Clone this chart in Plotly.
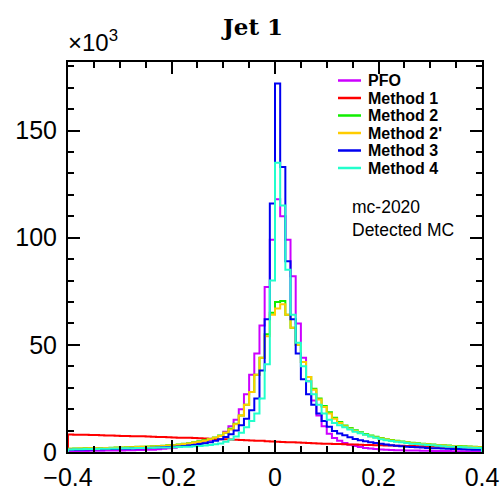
import numpy as np
import plotly.graph_objects as go

# ---------------- data (counts in units of 10^3, 80 bins from -0.4 to 0.4) ----------------
x_min, x_max, n_bins = -0.4, 0.4, 80

pfo = [0.4, 0.45, 0.5, 0.5, 0.55, 0.6, 0.6, 0.65, 0.7, 0.7, 0.75, 0.8, 0.85, 0.9, 0.95, 1.0,
       1.1, 1.3, 1.5, 1.7, 2.0, 2.4, 2.8, 3.2, 3.7, 4.3, 4.8, 5.5, 6.5, 7.5,
       9.5, 12, 15, 20, 27, 36, 46, 59, 77, 99,
       118, 110, 99, 82, 60, 44, 33, 24, 17, 12,
       8.5, 6.5, 5.2, 4.2, 3.4, 2.8, 2.3, 1.9, 1.6, 1.4,
       1.2, 1.05, 0.95, 0.85, 0.8, 0.75, 0.7, 0.65, 0.6, 0.55,
       0.5, 0.48, 0.45, 0.42, 0.4, 0.38, 0.35, 0.33, 0.3, 0.3]

method1 = [8.2, 8.1, 8.1, 8.0, 7.9, 7.9, 7.8, 7.7, 7.7, 7.6,
           7.5, 7.5, 7.4, 7.3, 7.3, 7.2, 7.1, 7.0, 7.0, 6.9,
           6.8, 6.7, 6.7, 6.6, 6.5, 6.4, 6.3, 6.2, 6.1, 6.0,
           5.9, 5.8, 5.7, 5.6, 5.5, 5.4, 5.3, 5.2, 5.0, 4.9,
           4.8, 4.7, 4.6, 4.5, 4.4, 4.3, 4.2, 4.1, 4.0, 3.9,
           3.8, 3.75, 3.7, 3.6, 3.5, 3.45, 3.4, 3.3, 3.25, 3.2,
           3.1, 3.05, 3.0, 2.95, 2.9, 2.85, 2.8, 2.7, 2.65, 2.6,
           2.55, 2.5, 2.45, 2.4, 2.35, 2.3, 2.25, 2.2, 2.15, 2.1]

method2 = [1.55, 1.6, 1.65, 1.7, 1.75, 1.8, 1.85, 1.9, 2.0, 2.05, 2.1, 2.2, 2.3, 2.4, 2.5, 2.6,
           2.7, 2.8, 2.95, 3.1, 3.3, 3.5, 3.8, 4.1, 4.5, 5.0, 5.5, 6.1, 6.8, 7.7,
           9.0, 10.8, 13.2, 17, 22, 28, 36, 44, 55, 65,
           70, 70.5, 64, 58, 50, 42, 35, 29.5, 25, 21.5,
           18.5, 16, 14, 12.4, 11.2, 10.1, 9.2, 8.4, 7.7, 7.1,
           6.5, 6.0, 5.6, 5.2, 4.9, 4.6, 4.3, 4.05, 3.85, 3.65,
           3.45, 3.3, 3.15, 3.0, 2.85, 2.75, 2.65, 2.55, 2.45, 2.35]

method2p = [1.5, 1.55, 1.6, 1.65, 1.7, 1.75, 1.8, 1.85, 1.9, 2.0, 2.05, 2.1, 2.2, 2.3, 2.4, 2.5,
            2.6, 2.7, 2.85, 3.0, 3.2, 3.4, 3.7, 4.0, 4.4, 4.8, 5.3, 5.9, 6.6, 7.5,
            9, 10.5, 13, 17, 22, 28, 36, 44, 54, 64,
            67, 69, 64, 58, 50, 42, 35, 29, 24.5, 21,
            18, 15.5, 13.5, 12, 10.8, 9.8, 8.9, 8.1, 7.4, 6.8,
            6.3, 5.8, 5.4, 5.0, 4.7, 4.4, 4.1, 3.9, 3.7, 3.5,
            3.3, 3.15, 3.0, 2.85, 2.7, 2.6, 2.5, 2.4, 2.3, 2.2]

method3 = [1.0, 1.05, 1.1, 1.15, 1.2, 1.25, 1.3, 1.35, 1.4, 1.45, 1.5, 1.55, 1.6, 1.7, 1.8, 1.9,
           2.0, 2.1, 2.2, 2.3, 2.45, 2.6, 2.8, 3.0, 3.3, 3.7, 4.1, 4.6, 5.2, 6.0,
           7.0, 8.3, 10, 12.5, 15.5, 19.5, 25, 38, 62, 116,
           172, 133, 89, 62, 46, 34, 27, 22, 18, 14.5,
           11.8, 9.8, 8.6, 7.8, 6.9, 6.1, 5.5, 5.0, 4.6, 4.2,
           3.8, 3.5, 3.2, 2.9, 2.7, 2.5, 2.35, 2.2, 2.05, 1.9,
           1.8, 1.7, 1.6, 1.5, 1.45, 1.4, 1.3, 1.2, 1.1, 1.0]

method4 = [1.2, 1.25, 1.3, 1.35, 1.4, 1.45, 1.5, 1.55, 1.6, 1.65, 1.7, 1.75, 1.8, 1.85, 1.9, 1.95,
           2.0, 2.05, 2.1, 2.15, 2.2, 2.3, 2.4, 2.5, 2.65, 2.8, 3.0, 3.3, 3.6, 4.0,
           4.8, 5.8, 7.2, 9, 11.5, 14.5, 18, 25, 41, 80,
           135, 115, 85, 64, 51, 40, 33, 27, 22, 18,
           15, 13.5, 12.5, 11.5, 10.5, 9.5, 8.7, 8.0, 7.2, 6.6,
           6.0, 5.5, 5.1, 4.8, 4.5, 4.2, 3.9, 3.7, 3.5, 3.3,
           3.1, 2.9, 2.7, 2.5, 2.4, 2.3, 2.2, 2.1, 2.0, 1.9]

series_names = ["PFO", "Method 1", "Method 2", "Method 2'", "Method 3", "Method 4"]
series_values = [pfo, method1, method2, method2p, method3, method4]
series_colors = ["#CC00FF", "#FF0000", "#11EE00", "#FFCC00", "#0000F0", "#22FFCC"]

x_tickvals = [-0.4, -0.2, 0, 0.2, 0.4]
x_ticktext = ["\u22120.4", "\u22120.2", "0", "0.2", "0.4"]
y_tickvals = [0, 50, 100, 150]
y_ticktext = ["0", "50", "100", "150"]
y_max = 182

title_text = "Jet 1"
info_lines = ["mc-2020", "Detected MC"]

# ---------------- layout geometry ----------------
W, H = 504, 490
ML, MR, MT, MB = 68, 22, 62, 38
PW, PH = W - ML - MR, H - MT - MB


def px_to_paper(px, py):
    return (px - ML) / PW, (H - MB - py) / PH


edges = np.linspace(x_min, x_max, n_bins + 1)

fig = go.Figure()
for name, vals, col in zip(series_names, series_values, series_colors):
    xs = [edges[0]] + list(edges) + [edges[-1]]
    ys = [0] + list(vals) + [vals[-1], 0]
    fig.add_trace(go.Scatter(x=xs, y=ys, mode="lines", name=name,
                             line=dict(color=col, width=2, shape="hv"),
                             showlegend=False, hoverinfo="skip"))

# manual legend
leg_x0, leg_x1, leg_tx = 338, 361, 366
leg_y0, leg_dy = 80.5, 17.5
for k, (name, col) in enumerate(zip(series_names, series_colors)):
    py = leg_y0 + k * leg_dy
    xa, ya = px_to_paper(leg_x0, py)
    xb, _ = px_to_paper(leg_x1, py)
    fig.add_shape(type="line", xref="paper", yref="paper", x0=xa, x1=xb, y0=ya, y1=ya,
                  line=dict(color=col, width=2.5))
    xt, _ = px_to_paper(leg_tx, py)
    fig.add_annotation(xref="paper", yref="paper", x=xt, y=ya, xanchor="left", yanchor="middle",
                       text="<b>%s</b>" % name, showarrow=False,
                       font=dict(family="Liberation Sans", size=16, color="black"))

for k, line in enumerate(info_lines):
    xt, yt = px_to_paper(350, 207 + k * 23)
    fig.add_annotation(xref="paper", yref="paper", x=xt, y=yt, xanchor="left", yanchor="middle",
                       text=line, showarrow=False,
                       font=dict(family="Liberation Sans", size=17.5, color="black"))

# x10^3 label
xe, ye = px_to_paper(66, 58)
fig.add_annotation(xref="paper", yref="paper", x=xe, y=ye, xanchor="left", yanchor="bottom",
                   text="\u00d710<sup>3</sup>", showarrow=False,
                   font=dict(family="Liberation Sans", size=24, color="black"))

axis_common = dict(showline=True, linewidth=2, linecolor="black", mirror="allticks",
                   ticks="inside", ticklen=12, tickwidth=2, tickcolor="black",
                   showgrid=False, zeroline=False, automargin=False,
                   tickfont=dict(family="Liberation Sans", size=25, color="black"))

fig.update_layout(
    width=W, height=H,
    margin=dict(l=ML, r=MR, t=MT, b=MB, autoexpand=False),
    paper_bgcolor="white", plot_bgcolor="white",
    title=dict(text="<b>%s</b>" % title_text, x=0.502, xanchor="center",
               y=1 - 27 / H, yanchor="middle", xref="container", yref="container",
               font=dict(family="DejaVu Serif", size=23, color="black")),
    xaxis=dict(range=[x_min, x_max], tickvals=x_tickvals, ticktext=x_ticktext,
               ticklabelstandoff=2,
               minor=dict(dtick=0.05, tick0=0, ticks="inside", ticklen=6, tickwidth=2,
                          tickcolor="black"),
               **axis_common),
    yaxis=dict(range=[0, y_max], tickvals=y_tickvals, ticktext=y_ticktext,
               ticklabelstandoff=4,
               minor=dict(dtick=10, tick0=0, ticks="inside", ticklen=6, tickwidth=2,
                          tickcolor="black"),
               **axis_common),
)

fig.write_html("out.html")
